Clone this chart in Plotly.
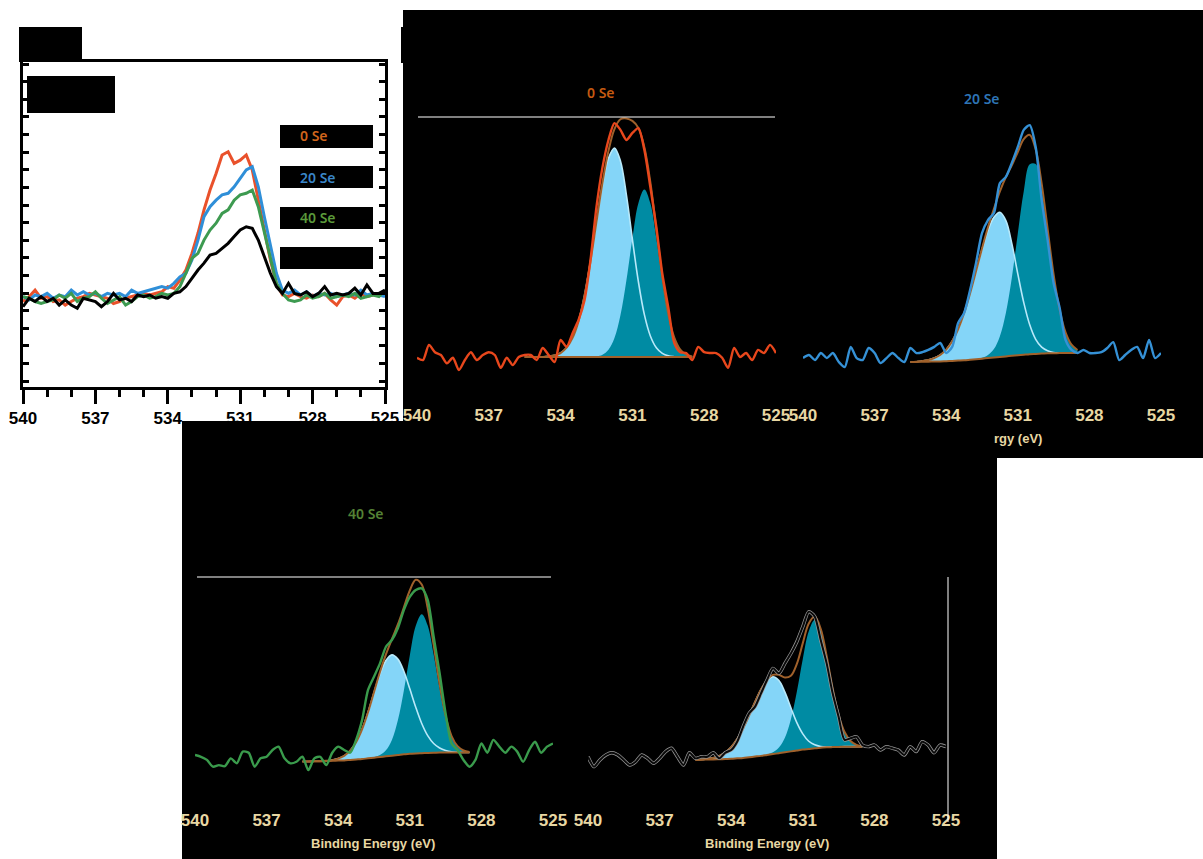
import plotly.graph_objects as go

W, H = 1203, 859
def PX(x): return x / W
def PY(y): return 1 - y / H

# ---------------- data ----------------
energy = [540 - 0.25 * i for i in range(61)]          # binding energy grid (eV)
comp_energy = [535.5 - 0.25 * i for i in range(29)]   # fit-component grid (eV)
tick_vals = [540, 537, 534, 531, 528, 525]

# panel (a) overlay spectra
a_0se = [26.3,27.8,29.8,27.3,27.8,26.3,26.8,25.2,26.3,27.3,
         27.8,28.8,28.3,27.8,27.3,25.7,26.3,27.3,27.8,28.3,
         28.8,28.3,28.8,29.3,30.9,30.4,32.9,36.0,41.1,47.3,
         54.5,60.6,65.7,71.4,72.4,68.8,69.8,71.4,66.8,57.5,
         48.3,39.1,31.9,28.3,27.8,28.8,27.8,27.3,28.3,27.8,
         28.8,26.8,25.2,27.8,28.3,27.3,28.8,27.8,28.3,28.8,28.8]
a_20se = [27.8,26.8,28.3,27.8,28.8,27.3,28.3,27.8,29.8,28.3,
          29.3,28.3,28.8,27.8,28.8,28.3,28.8,27.8,29.8,28.8,
          29.3,29.8,30.4,30.9,30.4,31.9,33.9,35.0,39.1,45.2,
          52.4,55.5,57.5,59.1,59.6,61.6,64.2,66.8,67.8,61.6,
          52.4,43.2,35.0,29.8,28.8,29.8,28.3,29.3,27.8,28.8,
          28.3,28.8,27.8,28.3,28.8,28.3,29.8,28.3,28.8,28.3,27.8]
a_40se = [27.8,27.3,26.3,25.7,26.3,26.8,28.3,27.3,28.8,26.3,
          27.3,27.8,29.3,27.3,25.7,26.8,27.8,25.2,26.3,27.8,
          28.3,27.3,27.8,28.8,28.3,28.8,30.9,35.0,39.6,41.1,
          45.2,48.3,50.4,53.4,54.5,57.5,59.1,59.6,60.6,55.5,
          47.3,39.1,31.9,28.8,26.8,26.3,26.8,28.3,27.3,27.8,
          28.8,27.3,27.8,28.3,27.8,28.8,27.3,27.8,28.3,27.8,29.8]
a_blk = [24.7,27.3,26.3,27.8,26.3,27.3,25.2,26.8,25.2,24.2,
         27.3,26.8,26.3,24.7,26.3,28.8,26.8,27.3,26.3,28.3,
         27.8,28.3,27.3,27.8,27.3,28.8,29.3,30.9,33.4,36.0,
         38.1,40.6,41.1,42.7,44.2,46.3,48.3,49.3,48.8,45.2,
         40.1,35.0,30.9,28.8,31.9,28.8,28.3,29.3,27.8,28.8,
         30.9,28.3,28.8,28.3,28.8,30.4,28.3,31.4,28.8,28.8,29.8]

# fitted panels: measured spectra
f_0se = [14.0,13.2,18.6,16.0,15.0,12.0,14.0,9.6,13.2,16.0,
         13.2,15.0,16.0,15.0,10.4,14.0,11.4,14.3,15.0,15.0,
         13.2,17.5,15.0,12.5,20.4,17.9,22.8,27.5,34.6,49.0,
         68.0,82.0,91.8,97.8,95.4,91.8,94.3,96.0,88.2,75.0,
         60.7,44.0,32.0,19.3,16.0,15.7,13.2,17.9,16.0,15.7,
         15.7,14.0,10.4,17.5,14.3,15.7,13.2,16.8,15.7,18.6,15.7]
f_20se = [13.9,15.0,13.2,15.7,13.9,15.7,12.5,10.7,17.9,13.9,
          13.2,17.5,15.7,12.1,13.9,15.7,13.9,12.5,17.5,15.7,
          16.0,16.8,17.9,19.3,15.7,17.9,26.4,30.0,38.2,47.9,
          58.5,63.2,65.7,76.4,78.6,83.6,89.3,95.4,97.1,89.3,
          70.4,56.0,40.7,32.0,20.4,16.8,15.7,16.8,15.7,15.7,
          16.0,17.5,19.6,13.2,15.0,16.8,17.9,13.9,20.4,13.9,15.7]
f_40se = [20.9,20.1,18.7,15.7,16.4,15.9,19.4,17.2,22.4,21.9,
          15.7,19.4,20.1,23.1,24.6,19.4,17.2,17.9,20.1,14.2,
          19.4,20.1,16.4,21.9,24.6,23.1,21.9,27.6,36.4,49.8,
          55.7,61.6,69.0,72.0,77.2,85.3,91.2,94.2,94.9,89.8,
          73.5,57.2,39.4,26.0,23.1,18.7,15.7,18.7,26.0,21.9,
          27.6,24.6,21.9,24.6,22.4,17.9,23.1,26.8,21.9,24.6,26.0]
f_blk = [20.1,15.7,18.7,20.9,21.9,20.9,18.7,16.4,17.9,20.9,
         19.4,17.2,19.4,22.4,23.9,20.1,16.4,21.9,19.4,20.1,
         20.1,21.9,19.4,21.9,23.1,26.8,33.5,39.4,42.4,48.3,
         54.2,59.4,57.2,61.6,66.0,71.2,77.9,84.6,82.4,72.0,
         61.6,48.3,37.9,27.6,28.3,29.0,25.3,24.6,25.3,23.1,
         24.6,23.9,23.1,20.9,24.6,22.4,26.8,25.3,21.9,25.3,24.6]

# fitted panels: background and components (heights above background)
bg_0se = [14.3] * 29
lt_0se = [0,0,0,0,0.2,0.6,1.4,3.3,6.8,12.8,22.0,34.2,48.1,61.4,71.0,74.6,70.0,57.8,42.0,26.9,15.1,7.5,3.3,1.3,0.4,0.1,0,0,0]
dk_0se = [0]*12 + [0.2,0.8,2.6,6.8,14.9,27.4,42.3,54.9,59.8,54.9,42.3,27.4,14.9,6.8,2.6,0.8,0.2]

bg_20se = [12.5,12.5,12.6,12.6,12.7,12.7,12.8,12.9,13.0,13.1,13.3,13.5,13.7,13.9,14.1,14.3,14.5,14.7,14.9,15.1,15.3,15.4,15.5,15.6,15.6,15.7,15.7,15.7,15.7]
lt_20se = [0,0.1,0.3,0.6,1.2,2.3,4.1,7.0,11.2,16.8,23.7,31.4,39.0,45.6,50.1,51.7,48.5,40.1,29.1,18.6,10.5,5.2,2.3,0.9,0.3,0.1,0,0,0]
dk_20se = [0]*12 + [0.3,1.1,3.0,7.4,15.5,27.9,43.5,58.4,67.8,67.8,58.4,43.5,27.9,15.5,7.4,3.0,1.1]

bg_40se = [18.0,18.0,18.1,18.1,18.2,18.3,18.4,18.5,18.7,18.9,19.1,19.4,19.7,20.0,20.3,20.6,20.9,21.2,21.4,21.6,21.7,21.8,21.9,22.0,22.0,22.0,22.0,22.0,22.0]
lt_40se = [0,0,0,0,0.1,0.3,0.9,2.0,4.1,7.7,13.2,20.5,28.9,36.9,42.6,44.8,42.6,36.9,28.9,20.5,13.2,7.7,4.1,2.0,0.9,0.3,0.1,0,0]
dk_40se = [0]*12 + [0.2,0.9,2.7,7.0,15.4,28.3,43.7,56.7,61.8,56.7,43.7,28.3,15.4,7.0,2.7,0.9,0.2]

bg_blk = [18.8,18.8,18.9,18.9,19.0,19.1,19.2,19.4,19.6,19.9,20.2,20.5,20.9,21.3,21.7,22.1,22.5,22.9,23.3,23.6,23.9,24.1,24.3,24.4,24.5,24.6,24.6,24.6,24.6]
lt_blk = [0,0.1,0.3,0.7,1.5,2.9,5.2,8.6,13.1,18.5,24.3,29.5,33.1,34.4,32.3,26.7,19.4,12.4,7.0,3.4,1.5,0.6,0.2,0.1,0,0,0,0,0]
dk_blk = [0]*12 + [0.2,0.8,2.5,6.5,14.2,26.1,40.3,52.3,57.0,52.3,40.3,26.1,14.2,6.5,2.5,0.8,0.2]

legend_labels = ["0 Se", "20 Se", "40 Se", ""]
panel_titles = ["0 Se", "20 Se", "40 Se"]

# ---------------- styles ----------------
RED, BLUE, GREEN = "#e9512b", "#2f8fd8", "#3d9a50"
LIGHT, TEAL, LIGHT_LINE, BROWN = "#84d5f8", "#008ba3", "#b8e9fa", "#a0612b"
CREAM = "#e8d7a3"
TICKFONT = dict(family="Liberation Sans Narrow, Liberation Sans", size=17, color=CREAM, weight="bold")

fig = go.Figure()

# ---------- panel (a) ----------
for ys, col in [(a_0se, RED), (a_20se, BLUE), (a_40se, GREEN), (a_blk, "#000000")]:
    fig.add_trace(go.Scatter(x=energy, y=ys, mode="lines", line=dict(color=col, width=3),
                             xaxis="x", yaxis="y", showlegend=False, hoverinfo="skip"))

# ---------- fitted panels ----------
def add_fit(xa, ya, spec, bg, lt, dk, color, halo=None):
    up_lt = [b + l for b, l in zip(bg, lt)]
    up_dk = [b + d for b, d in zip(bg, dk)]
    env = [b + l + d for b, l, d in zip(bg, lt, dk)]
    common = dict(xaxis=xa, yaxis=ya, showlegend=False, hoverinfo="skip", mode="lines")
    fig.add_trace(go.Scatter(x=comp_energy, y=bg, line=dict(width=0, shape="spline"), **common))
    fig.add_trace(go.Scatter(x=comp_energy, y=up_lt, fill="tonexty", fillcolor=LIGHT,
                             line=dict(width=0, shape="spline", color=LIGHT), **common))
    fig.add_trace(go.Scatter(x=comp_energy, y=bg, line=dict(width=0, shape="spline"), **common))
    fig.add_trace(go.Scatter(x=comp_energy, y=up_dk, fill="tonexty", fillcolor=TEAL,
                             line=dict(width=0, shape="spline", color=TEAL), **common))
    fig.add_trace(go.Scatter(x=comp_energy, y=up_lt, line=dict(width=1.6, shape="spline", color=LIGHT_LINE), **common))
    fig.add_trace(go.Scatter(x=comp_energy, y=bg, line=dict(width=2, shape="spline", color=BROWN), **common))
    fig.add_trace(go.Scatter(x=comp_energy, y=env, line=dict(width=2, shape="spline", color=BROWN), **common))
    if halo:
        fig.add_trace(go.Scatter(x=energy, y=spec, line=dict(width=3.4, shape="spline", smoothing=0.7, color=halo), **common))
        fig.add_trace(go.Scatter(x=energy, y=spec, line=dict(width=2.0, shape="spline", smoothing=0.7, color=color), **common))
    else:
        fig.add_trace(go.Scatter(x=energy, y=spec, line=dict(width=2.4, shape="spline", smoothing=0.7, color=color), **common))

add_fit("x2", "y2", f_0se, bg_0se, lt_0se, dk_0se, "#e8471c")
add_fit("x3", "y3", f_20se, bg_20se, lt_20se, dk_20se, "#3591d6")
add_fit("x4", "y4", f_40se, bg_40se, lt_40se, dk_40se, "#3a9b4c")
add_fit("x5", "y5", f_blk, bg_blk, lt_blk, dk_blk, "#0a0a0a", halo="#9a9a9a")

# ---------- axes ----------
layout = dict(
    width=W, height=H, autosize=False, margin=dict(l=0, r=0, t=0, b=0, autoexpand=False),
    paper_bgcolor="white", plot_bgcolor="rgba(0,0,0,0)", showlegend=False,
    xaxis=dict(domain=[PX(23), PX(385)], range=[540, 525], tickmode="linear", tick0=525, dtick=3,
               ticks="outside", ticklen=14, tickwidth=2.5, tickcolor="black", automargin=False,
               minor=dict(dtick=1, ticks="outside", ticklen=7, tickwidth=2.5, tickcolor="black"),
               showline=True, linewidth=3, linecolor="black", mirror=True,
               showgrid=False, zeroline=False,
               tickfont=dict(family="Liberation Sans", size=17, color="black", weight="bold")),
    yaxis=dict(domain=[PY(387), PY(62)], range=[0, 100], tick0=1.8, dtick=5.42, automargin=False,
               ticks="inside", ticklen=6, tickwidth=2.5, tickcolor="black",
               showline=True, linewidth=3, linecolor="black", mirror="ticks",
               showticklabels=False, showgrid=False, zeroline=False),
)
fit_axes = {
    "2": ([PX(417), PX(776)], [PY(397), PY(117)]),
    "3": ([PX(803), PX(1161)], [PY(397), PY(117)]),
    "4": ([PX(195), PX(553)], [PY(802), PY(577)]),
    "5": ([PX(588), PX(946)], [PY(802), PY(577)]),
}
for k, (dx, dy) in fit_axes.items():
    layout["xaxis" + k] = dict(domain=dx, range=[540, 525], tickmode="array", tickvals=tick_vals,
                               ticks="", showline=False, showgrid=False, zeroline=False, automargin=False,
                               tickfont=TICKFONT, anchor="y" + k, ticklabelstandoff=6)
    layout["yaxis" + k] = dict(domain=dy, range=[0, 100], visible=False, anchor="x" + k, automargin=False)
fig.update_layout(**layout)

# ---------- shapes ----------
def rect(x0, y0, x1, y1, layer="below", color="black"):
    return dict(type="rect", xref="paper", yref="paper", x0=PX(x0), x1=PX(x1), y0=PY(y1), y1=PY(y0),
                fillcolor=color, line=dict(width=0), layer=layer)
def hline(x0, x1, y, color="white", w=1):
    return dict(type="line", xref="paper", yref="paper", x0=PX(x0), x1=PX(x1), y0=PY(y), y1=PY(y),
                line=dict(color=color, width=w), layer="above")

shapes = [
    rect(403, 10, 1203, 458), rect(401, 27, 404, 63), rect(182, 421, 997, 859),
    rect(19, 27, 82, 62, "above"), rect(27, 76, 115, 113, "above"),
    rect(280, 125, 373, 148, "above"), rect(280, 166, 373, 188, "above"),
    rect(280, 207, 373, 229, "above"), rect(280, 247, 373, 269, "above"),
    hline(418, 775, 117), hline(197, 551, 577),
    dict(type="line", xref="paper", yref="paper", x0=PX(948), x1=PX(948), y0=PY(822), y1=PY(577),
         line=dict(color="white", width=1), layer="above"),
]
fig.update_layout(shapes=shapes)

# ---------- text ----------
ann = []
leg_colors = ["#d0651c", "#3a86c8", "#5a9a3a", "#000000"]
for lab, col, yc in zip(legend_labels, leg_colors, [136, 177, 218, 258]):
    if lab:
        ann.append(dict(text=lab, x=PX(298), y=PY(yc), xref="paper", yref="paper", xanchor="left",
                        yanchor="middle", showarrow=False,
                        font=dict(family="Noto Sans", size=14, color=col, weight=600)))
for lab, col, (xc, yc) in zip(panel_titles, ["#c55a11", "#2e75b6", "#548235"],
                              [(601, 92), (982, 98), (366, 513)]):
    ann.append(dict(text=lab, x=PX(xc), y=PY(yc), xref="paper", yref="paper", xanchor="center",
                    yanchor="middle", showarrow=False,
                    font=dict(family="Noto Sans", size=14, color=col, weight=600)))
axfont = dict(family="Liberation Sans Narrow, Liberation Sans", size=13, color=CREAM, weight="bold")
for txt, xc, yc in [("Binding Energy (eV)", 373, 843), ("Binding Energy (eV)", 767, 843), ("rgy (eV)", 1018, 438)]:
    ann.append(dict(text=txt, x=PX(xc), y=PY(yc), xref="paper", yref="paper", xanchor="center",
                    yanchor="middle", showarrow=False, font=axfont))
fig.update_layout(annotations=ann)

fix_js = """
document.documentElement.style.margin='0px';
document.body.style.margin='0px';
document.body.style.padding='0px';
document.body.style.overflow='hidden';
"""
fig.write_html(
    "out.html",
    config={"displayModeBar": False},
    post_script=fix_js,
)
